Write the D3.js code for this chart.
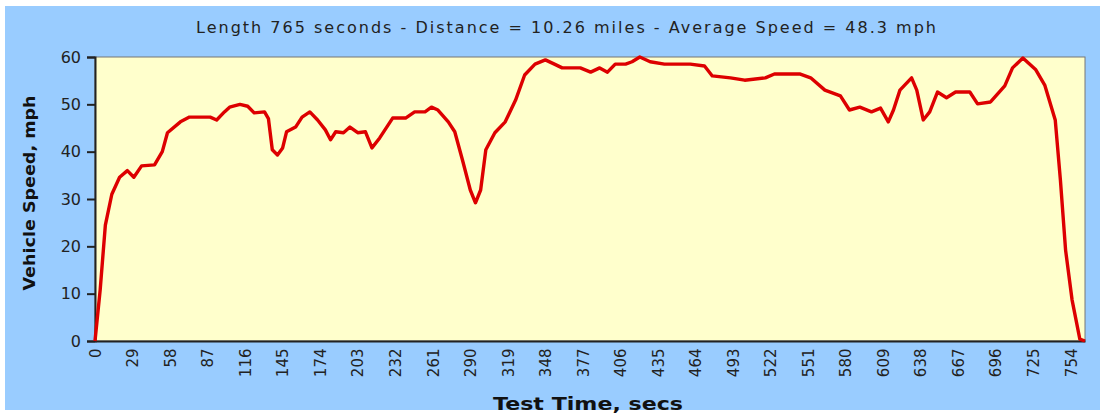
<!DOCTYPE html>
<html><head><meta charset="utf-8">
<script src="https://cdn.jsdelivr.net/npm/d3@7"></script>
<style>body{margin:0;background:#fff}svg{display:block}text{font-family:"DejaVu Sans",Verdana,sans-serif}</style>
</head><body><svg id="c" width="1107" height="416"></svg>
<script>
const times=[0,4,8,13,19,25,30,36,46,52,56,66,73,89,94,100,104,112,118,123,131,134,137,141,145,148,155,160,166,172,178,182,186,192,197,203,209,214,220,230,240,247,255,260,265,273,278,284,290,294,298,302,309,317,325,332,340,348,355,361,375,383,390,396,402,410,415,421,429,440,460,471,477,491,502,518,525,545,553,564,576,583,591,600,607,613,617,622,631,635,640,645,651,658,665,676,682,692,703,709,717,727,734,742,746,750,755,761,765];
const speeds=[0,10.8,24.5,31,34.6,36,34.6,37,37.2,40,44,46.3,47.3,47.3,46.7,48.4,49.4,50,49.6,48.2,48.4,47,40.4,39.3,40.8,44.2,45.2,47.3,48.4,46.7,44.6,42.5,44.2,44,45.2,44,44.2,40.8,42.9,47.1,47.1,48.4,48.4,49.4,48.8,46.3,44.2,38.2,31.9,29.2,31.9,40.4,44,46.3,50.9,56.2,58.5,59.4,58.5,57.7,57.7,56.8,57.7,56.8,58.5,58.5,59,60,59,58.5,58.5,58.1,56,55.6,55.1,55.6,56.4,56.4,55.6,53,51.8,48.8,49.4,48.4,49.2,46.3,48.8,53,55.6,53,46.7,48.4,52.6,51.4,52.6,52.6,50.1,50.5,53.9,57.7,59.8,57.3,54,46.7,34,19.2,8.7,0.4,0];
const xTicks=d3.range(0,755,29);
const yTicks=[0,10,20,30,40,50,60];
const title="Length 765 seconds - Distance = 10.26 miles - Average Speed = 48.3 mph";
const svg=d3.select("#c");
svg.append("rect").attr("x",5).attr("y",6).attr("width",1095).attr("height",404).attr("fill","#99ccff");
const L=95,R=1085,T=57,B=341;
const x=d3.scaleLinear().domain([0,765]).range([L,R]);
const y=d3.scaleLinear().domain([0,60]).range([B,T]);
svg.append("rect").attr("x",L).attr("y",T).attr("width",R-L).attr("height",B-T).attr("fill","#ffffcc").attr("stroke","#777").attr("stroke-width",1);
svg.append("text").attr("x",196).attr("y",33).attr("font-size",16).attr("fill","#222").attr("textLength",740).attr("lengthAdjust","spacing").text(title);
const ya=svg.append("g").attr("transform",`translate(${L},0)`).call(d3.axisLeft(y).tickValues(yTicks).tickSize(8).tickPadding(6));
ya.selectAll("text").attr("font-size",16).attr("fill","#222");
const xa=svg.append("g").attr("transform",`translate(0,${B})`).call(d3.axisBottom(x).tickValues(xTicks).tickSize(0).tickPadding(0));
xa.selectAll("text").attr("font-size",15).attr("fill","#222").attr("text-anchor","end").attr("transform","rotate(-90)").attr("dx","-0.5em").attr("dy","0.35em").attr("x",0).attr("y",0);
[ya,xa].forEach(a=>{a.select(".domain").attr("stroke","#222").attr("stroke-width",2);a.selectAll("line").attr("stroke","#222").attr("stroke-width",2);});
svg.append("path").datum(times.map((t,i)=>[t,speeds[i]])).attr("fill","none").attr("stroke","#dd0000").attr("stroke-width",3.4).attr("stroke-linejoin","round")
 .attr("d",d3.line().x(d=>x(d[0])).y(d=>y(d[1])));
svg.append("text").attr("transform",`translate(35,${(T+B)/2+ -6}) rotate(-90)`).attr("text-anchor","middle").attr("font-size",15).attr("font-weight","bold").attr("fill","#111").attr("textLength",195).attr("lengthAdjust","spacingAndGlyphs").text("Vehicle Speed, mph");
svg.append("text").attr("x",588).attr("y",410).attr("text-anchor","middle").attr("font-size",17).attr("font-weight","bold").attr("fill","#111").attr("textLength",190).attr("lengthAdjust","spacingAndGlyphs").text("Test Time, secs");
</script></body></html>
